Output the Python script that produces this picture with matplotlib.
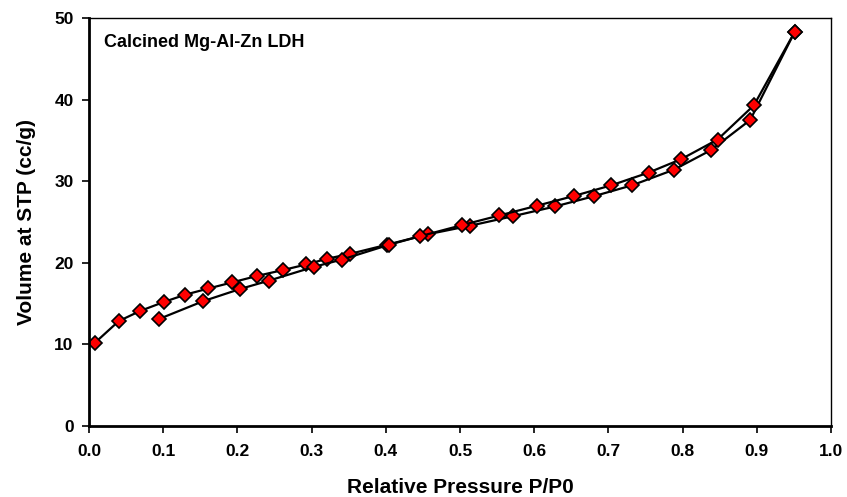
import matplotlib
matplotlib.use('Agg')
import matplotlib.pyplot as plt

plt.rcParams['font.family'] = ['Liberation Sans', 'DejaVu Sans']
plt.rcParams['font.weight'] = 'bold'

# adsorption branch (starts at low pressure)
ads_p = [0.008, 0.040, 0.069, 0.101, 0.130, 0.161, 0.193, 0.227, 0.261, 0.293,
         0.321, 0.352, 0.401, 0.457, 0.514, 0.571, 0.628, 0.680, 0.732, 0.788,
         0.838, 0.891, 0.951]
ads_v = [10.2, 12.85, 14.1, 15.2, 16.1, 16.85, 17.6, 18.4, 19.1, 19.8,
         20.5, 21.1, 22.2, 23.5, 24.55, 25.7, 26.9, 28.15, 29.5, 31.4,
         33.8, 37.5, 48.3]

# desorption branch (from high pressure back down)
des_p = [0.951, 0.896, 0.847, 0.798, 0.754, 0.704, 0.654, 0.604, 0.553, 0.502,
         0.446, 0.404, 0.341, 0.303, 0.242, 0.204, 0.154, 0.094]
des_v = [48.3, 39.3, 35.1, 32.7, 31.05, 29.5, 28.2, 27.0, 25.8, 24.6,
         23.25, 22.2, 20.4, 19.5, 17.8, 16.8, 15.3, 13.1]

fig = plt.figure(figsize=(8.47, 4.97), dpi=100)
ax = fig.add_axes([0.1051, 0.1429, 0.8761, 0.8209])

for p, v in [(ads_p, ads_v), (des_p, des_v)]:
    ax.plot(p, v, color='black', lw=1.6, marker='D', markersize=7,
            markerfacecolor='#ff0000', markeredgecolor='black', markeredgewidth=1.2)

ax.set_xlim(0, 1.0)
ax.set_ylim(0, 50)
ax.set_xticks([i / 10 for i in range(11)])
ax.set_xticklabels(['%.1f' % (i / 10) for i in range(11)])
ax.set_yticks(range(0, 51, 10))

for s in ['left', 'bottom']:
    ax.spines[s].set_linewidth(2)
for s in ['top', 'right']:
    ax.spines[s].set_linewidth(1)
ax.tick_params(direction='out', length=5, width=1.2, labelsize=12.5)
ax.tick_params(axis='x', pad=8)
ax.tick_params(axis='y', pad=6)

ax.set_xlabel('Relative Pressure P/P0', fontsize=15, fontweight='bold', labelpad=14)
ax.set_ylabel('Volume at STP (cc/g)', fontsize=15, fontweight='bold', labelpad=13)
ax.text(0.02, 0.941, 'Calcined Mg-Al-Zn LDH', transform=ax.transAxes,
        fontsize=13, fontweight='bold', va='center', ha='left')

plt.savefig('out.png', dpi=100)
